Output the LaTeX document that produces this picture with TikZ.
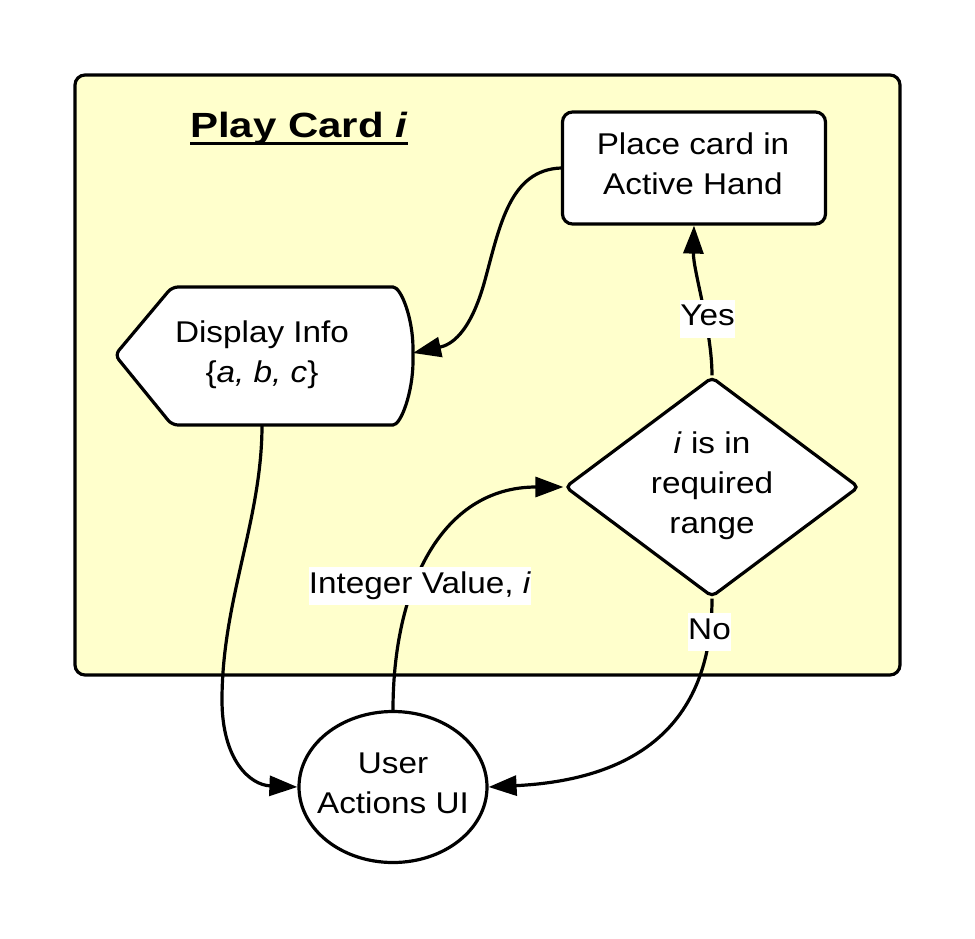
\documentclass[tikz,border=0pt]{standalone}
\usepackage{fontspec}
\setmainfont[FakeStretch=1.11]{Liberation Sans}
\newfontfamily\titlefont[FakeStretch=1.2]{Liberation Sans}
\usetikzlibrary{shapes.geometric,arrows.meta}
\definecolor{paleyellow}{HTML}{FFFFCC}
\newcommand{\ulinetitle}[1]{\setbox0\hbox{#1}\rlap{\rule[-7.5pt]{\wd0}{2.8pt}}\box0}
\begin{document}
\begin{tikzpicture}[x=1pt,y=-1pt,line width=3.2pt,
  font=\fontsize{30}{40}\selectfont,
  shapebox/.style={draw, fill=white, line width=3.2pt, inner sep=0pt},
  conn/.style={-{Triangle[length=28pt,width=20pt]}, line width=3.2pt},
  lbl/.style={fill=white, inner xsep=0pt, inner ysep=4pt, text height=22pt, text depth=8pt},
  txt/.style={inner sep=0pt, anchor=base}]
\useasboundingbox (0,0) rectangle (975,938);
% frame
\node[draw, fill=paleyellow, rounded corners=10pt, minimum width=825pt, minimum height=600pt, inner sep=0pt] (frame) at (487.5,375) {};
\node[txt] (title) at (299,137) {\titlefont\fontsize{35}{40}\selectfont\bfseries\ulinetitle{Play Card \textit{i}}};
% shapes
\node[shapebox, rounded corners=10pt, minimum width=263pt, minimum height=112pt] (plc) at (694,168) {};
\node[txt] (plcT) at (693,154) {\begin{tabular}[t]{@{}c@{}}Place card in\\Active Hand\end{tabular}};
\draw[fill=white, rounded corners=6pt] (387,287) .. controls (401,287) and (413,318) .. (413,355) .. controls (413,392) and (401,425) .. (387,425) -- (172,425) -- (115,355) -- (172,287) -- cycle;
\coordinate (dispR) at (413,353);
\coordinate (dispB) at (262,425);
\node[txt] (dispT) at (262,342) {\begin{tabular}[t]{@{}c@{}}Display Info\\\{\textit{a, b, c}\}\end{tabular}};
\node[shapebox, diamond, rounded corners=5pt, minimum width=294pt, minimum height=220pt] (dia) at (712,487) {};
\node[txt] (diaT) at (712,453) {\begin{tabular}[t]{@{}c@{}}\textit{i} is in\\required\\range\end{tabular}};
\node[shapebox, ellipse, minimum width=188pt, minimum height=151pt] (ua) at (393,787) {};
\node[txt] (uaT) at (393,773) {\begin{tabular}[t]{@{}c@{}}User\\Actions UI\end{tabular}};
% connectors
\draw[conn] (plc.west) .. controls (510,170) and (500,225) .. (485,280) .. controls (470,335) and (450,345) .. (dispR);
\draw[conn] (dispB) .. controls (262,520) and (222,600) .. (222,700) .. controls (222,760) and (250,785) .. (ua.west);
\draw[conn] (ua.north) .. controls (393,590) and (440,487) .. (dia.west);
\draw[conn] (dia.north) .. controls (712,330) and (693,270) .. (plc.south);
\draw[conn] (dia.south) .. controls (712,730) and (630,780) .. (ua.east);
% labels
\node[lbl] (yes) at (707.5,318.5) {Yes};
\node[lbl] (no) at (709.5,632) {No};
\node[lbl] (intv) at (420,586) {Integer Value, \textit{i}};
\end{tikzpicture}
\end{document}
